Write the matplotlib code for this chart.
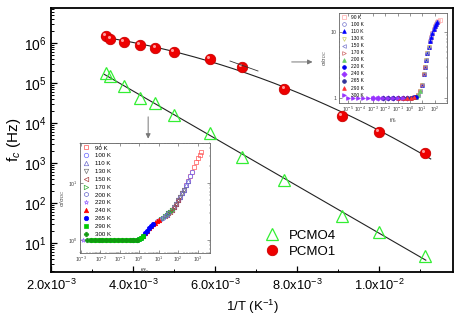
import numpy as np
import matplotlib
matplotlib.use('Agg')
import matplotlib.pyplot as plt
from matplotlib.ticker import MultipleLocator, LogLocator, NullFormatter, FixedLocator
from matplotlib.transforms import ScaledTranslation

plt.rcParams['font.family'] = ['Liberation Sans', 'DejaVu Sans']
plt.rcParams['mathtext.fontset'] = 'custom'
plt.rcParams['mathtext.rm'] = 'Liberation Sans'
plt.rcParams['mathtext.it'] = 'Liberation Sans:italic'
plt.rcParams['mathtext.bf'] = 'Liberation Sans:bold'
plt.rcParams['mathtext.sf'] = 'Liberation Sans'

# ---------------- main data ----------------
temps = [300, 290, 265, 240, 220, 200, 170, 150, 130, 110, 100, 90]
f_pcmo1 = [1.5e6, 1.26e6, 1.06e6, 8.9e5, 7.5e5, 6.0e5, 4.0e5, 2.5e5, 7.1e4, 1.5e4, 6.0e3, 1.8e3]
f_pcmo4 = [1.78e5, 1.5e5, 8.4e4, 4.2e4, 3.2e4, 1.6e4, 5.6e3, 1.4e3, 3.8e2, 47, 19, 4.7]

x_ticks = [2e-3, 4e-3, 6e-3, 8e-3, 1e-2]
x_tick_labels = ['2.0x10$^{-3}$', '4.0x10$^{-3}$', '6.0x10$^{-3}$', '8.0x10$^{-3}$', '1.0x10$^{-2}$']
y_ticks = [1e1, 1e2, 1e3, 1e4, 1e5, 1e6]
y_tick_labels = ['10$^{1}$', '10$^{2}$', '10$^{3}$', '10$^{4}$', '10$^{5}$', '10$^{6}$']

# ---------------- inset data ----------------
inset_temps = [90, 100, 110, 130, 150, 170, 200, 220, 240, 265, 290, 300]
inset_labels = ['%d K' % t for t in inset_temps]

# lower-left inset (PCMO4) master curve: log10(f/fc), sigma/sigma_dc
low_lx = [-2.9, -2.7, -2.5, -2.3, -2.1, -1.9, -1.7, -1.5, -1.3, -1.1, -0.9, -0.7, -0.5, -0.3, -0.1,
          0.0, 0.1, 0.2, 0.3, 0.4, 0.5, 0.6, 0.7, 0.8, 0.9, 1.0, 1.1, 1.2, 1.3, 1.4, 1.5, 1.6,
          1.7, 1.8, 1.9, 2.0, 2.1, 2.2, 2.3, 2.4, 2.5, 2.6, 2.7, 2.8, 2.9, 3.0, 3.1, 3.2]
low_y = [1.0, 1.0, 1.0, 1.0, 1.0, 1.0, 1.0, 1.0, 1.0, 1.0, 1.0, 0.99, 0.98, 0.99, 1.0,
         1.03, 1.08, 1.18, 1.3, 1.45, 1.6, 1.75, 1.9, 2.0, 2.1, 2.2, 2.3, 2.45, 2.6, 2.75, 2.9, 3.1,
         3.4, 3.8, 4.3, 4.9, 5.6, 6.5, 7.6, 9.0, 10.8, 13.0, 15.5, 19.0, 23.0, 27.0, 31.0, 35.0]
low_range_lo = [2.0, 1.8, 1.7, 1.5, 1.3, 1.1, 0.9, -2.9, 0.2, -0.3, -2.5, -2.7]
low_range_hi = [3.2, 2.7, 2.5, 2.3, 2.0, 1.7, 1.5, 0.4, 1.0, 0.7, 0.2, -0.1]
low_colors = ['#ff5555', '#6a6aff', '#6a6acc', '#777777', '#aa4444', '#33aa33',
              '#6a6acc', '#9966ff', '#ff0000', '#0000ff', '#00cc00', '#119911']
low_markers = ['s', 'o', '^', 'v', '<', '>', 'h', '*', '^', 'o', 's', 'P']
low_filled = [False, False, False, False, False, False, False, False, True, True, True, True]

# upper-right inset (PCMO1) master curve
up_lx = [-5.0, -4.6, -4.2, -3.8, -3.4, -3.0, -2.6, -2.2, -1.8, -1.4, -1.0, -0.6, -0.2, 0.1, 0.3,
         0.5, 0.65, 0.8, 0.95, 1.1, 1.2, 1.3, 1.4, 1.5, 1.6, 1.7, 1.8, 1.9, 2.0, 2.1, 2.2, 2.3, 2.4]
up_y = [1.0, 1.0, 1.0, 1.0, 1.0, 1.0, 1.0, 1.0, 1.0, 1.0, 1.0, 1.0, 1.0, 1.0, 1.02,
        1.05, 1.1, 1.3, 1.6, 2.3, 3.0, 3.8, 4.9, 6.0, 7.3, 8.5, 9.7, 11.0, 12.3, 13.4, 14.3, 14.8, 15.2]
up_range_lo = [1.2, 0.9, 0.95, 0.5, 0.3, 0.1, -0.6, -1.4, -3.0, -2.2, -1.0, -5.0]
up_range_hi = [2.4, 2.2, 2.2, 1.5, 1.4, 1.2, 0.8, 0.5, -0.2, 0.1, 0.3, -0.6]
up_colors = ['#ffaaaa', '#7777cc', '#0000ff', '#cccc66', '#7777cc', '#cc6666',
             '#66cc66', '#0000ee', '#9933ff', '#333399', '#ff3333', '#9933ff']
up_markers = ['s', 'o', '^', 'v', '<', '>', '^', 'o', 'D', 'o', '^', '>']
up_filled = [False, False, True, False, False, False, True, True, True, True, True, True]

# ---------------- figure ----------------
fig = plt.figure(figsize=(4.63, 3.21), dpi=100)
ax = fig.add_axes([0.110, 0.153, 0.868, 0.822])

inv_T = 1.0 / np.array(temps, dtype=float)
f1 = np.array(f_pcmo1)
f4 = np.array(f_pcmo4)

# fit lines
c4 = np.polyfit(inv_T, np.log10(f4), 1)
xs4 = np.linspace(inv_T.min() - 0.03e-3, inv_T.max() + 0.03e-3, 200)
ax.plot(xs4, 10 ** np.polyval(c4, xs4), color='#222222', lw=0.8, zorder=2)
c1 = np.polyfit(inv_T, np.log10(f1), 2)
xs1 = np.linspace(inv_T.min() - 0.1e-3, inv_T.max() + 0.15e-3, 200)
ax.plot(xs1, 10 ** np.polyval(c1, xs1), color='#222222', lw=0.8, zorder=2)

h4, = ax.plot(inv_T, f4, linestyle='none', marker='^', ms=9, mfc='none',
              mec='#33ee33', mew=0.9, label='PCMO4', zorder=3)
h1, = ax.plot(inv_T, f1, linestyle='none', marker='o', ms=7.5, mfc='#ee0000',
              mec='#cc0000', mew=0.6, label='PCMO1', zorder=4)
# highlight on spheres
hl = ax.transData + ScaledTranslation(-1.3 / 72, 1.3 / 72, fig.dpi_scale_trans)
ax.plot(inv_T, f1, linestyle='none', marker='o', ms=2.2, mfc='#ff9a9a', mec='none',
        transform=hl, zorder=5)

ax.set_yscale('log')
ax.set_xlim(2e-3, 11.8e-3)
ax.set_ylim(1.88, 7.5e6)
ax.set_xticks(x_ticks)
ax.set_xticklabels(x_tick_labels)
ax.xaxis.set_minor_locator(MultipleLocator(1e-3))
ax.yaxis.set_major_locator(FixedLocator(y_ticks))
ax.set_yticklabels(y_tick_labels)
ax.yaxis.set_minor_locator(LogLocator(base=10, subs=np.arange(2, 10), numticks=100))
ax.yaxis.set_minor_formatter(NullFormatter())
ax.tick_params(axis='both', which='both', direction='in', top=False, right=False,
               colors='black')
ax.tick_params(axis='x', labelsize=9.3, pad=4)
ax.tick_params(axis='y', labelsize=10, pad=3)
ax.tick_params(which='major', length=4, width=0.9)
ax.tick_params(which='minor', length=2, width=0.7)
for s in ax.spines.values():
    s.set_linewidth(1.3)
ax.set_xlabel('1/T (K$^{-1}$)', fontsize=9.5, labelpad=4)
ax.set_ylabel('f$_c$ (Hz)', fontsize=11, labelpad=1)

leg = ax.legend(handles=[h4, h1], loc='center left', bbox_to_anchor=(0.548, 0.241),
                bbox_transform=fig.transFigure, frameon=False, fontsize=9.5,
                handlelength=2.0, handletextpad=0.3, labelspacing=0.3, borderaxespad=0,
                borderpad=0.4)

# arrows and small mark
ax.annotate('', xy=(0.675, 0.807), xytext=(0.630, 0.807), xycoords='figure fraction',
            textcoords='figure fraction',
            arrowprops=dict(arrowstyle='-|>', color='#777777', lw=0.7, mutation_scale=7,
                            shrinkA=0, shrinkB=0))
ax.annotate('', xy=(0.320, 0.568), xytext=(0.320, 0.636), xycoords='figure fraction',
            textcoords='figure fraction',
            arrowprops=dict(arrowstyle='-|>', color='#777777', lw=0.7, mutation_scale=7,
                            shrinkA=0, shrinkB=0))
fig.add_artist(plt.Line2D([230 / 463, 258 / 463], [1 - 61 / 321, 1 - 71 / 321],
                          transform=fig.transFigure, color='#333333', lw=0.6))


def draw_inset(rect, lx, yv, lo, hi, colors, markers, filled, xlim, ylim, xt, xtl, yt, ytl,
               leg_fs, leg_sp, ms):
    ia = fig.add_axes(rect)
    ia.set_xscale('log')
    ia.set_yscale('log')
    lxa = np.array(lx)
    ya = np.array(yv)
    hs = []
    for i, lab in enumerate(inset_labels):
        sel = (lxa >= lo[i] - 1e-9) & (lxa <= hi[i] + 1e-9)
        fc = colors[i] if filled[i] else 'none'
        h, = ia.plot(10 ** lxa[sel], ya[sel], linestyle='none', marker=markers[i], ms=ms,
                     mfc=fc, mec=colors[i], mew=0.5, label=lab)
        hs.append(h)
    ia.set_xlim(*xlim)
    ia.set_ylim(*ylim)
    ia.xaxis.set_major_locator(FixedLocator(xt))
    ia.set_xticklabels(xtl)
    ia.yaxis.set_major_locator(FixedLocator(yt))
    ia.set_yticklabels(ytl)
    ia.xaxis.set_minor_formatter(NullFormatter())
    ia.yaxis.set_minor_formatter(NullFormatter())
    ia.tick_params(which='both', direction='in', top=True, right=True, labelsize=3.8,
                   colors='#444444', pad=1.5)
    ia.tick_params(which='major', length=2, width=0.4)
    ia.tick_params(which='minor', length=1, width=0.3)
    for s in ia.spines.values():
        s.set_linewidth(0.6)
        s.set_color('#666666')
    ia.legend(handles=hs, loc='upper left', frameon=False, fontsize=leg_fs,
              labelspacing=leg_sp, handlelength=1.2, handletextpad=0.8, borderpad=0.2,
              borderaxespad=0.2, markerscale=1.0)
    return ia


lo_ax = draw_inset([0.173, 0.212, 0.281, 0.343], low_lx, low_y, low_range_lo, low_range_hi,
                   low_colors, low_markers, low_filled, (10 ** -3.05, 10 ** 3.65), (0.59, 50),
                   [1e-3, 1e-2, 1e-1, 1e0, 1e1, 1e2, 1e3],
                   ['10$^{-3}$', '10$^{-2}$', '10$^{-1}$', '10$^{0}$', '10$^{1}$', '10$^{2}$', '10$^{3}$'],
                   [1, 10], ['10$^{0}$', '10$^{1}$'], 4.4, 0.42, 3.2)
lo_ax.set_xlabel('f/f$_c$', fontsize=4.5, labelpad=1, color='#444444')
lo_ax.set_ylabel('σ/σ$_{DC}$', fontsize=4.5, labelpad=1, color='#444444')

up_ax = draw_inset([0.732, 0.679, 0.233, 0.280], up_lx, up_y, up_range_lo, up_range_hi,
                   up_colors, up_markers, up_filled, (10 ** -5.73, 10 ** 2.97), (0.84, 19.4),
                   [1e-5, 1e-4, 1e-3, 1e-2, 1e-1, 1e0, 1e1, 1e2],
                   ['10$^{-5}$', '10$^{-4}$', '10$^{-3}$', '10$^{-2}$', '10$^{-1}$', '10$^{0}$',
                    '10$^{1}$', '10$^{2}$'],
                   [1, 10], ['1', '10'], 3.5, 0.42, 2.7)
up_ax.set_xlabel('f/f$_c$', fontsize=4, labelpad=1, color='#444444')
up_ax.set_ylabel('σ/σ$_{DC}$', fontsize=4, labelpad=1, color='#444444')

fig.savefig('out.png', dpi=100)
